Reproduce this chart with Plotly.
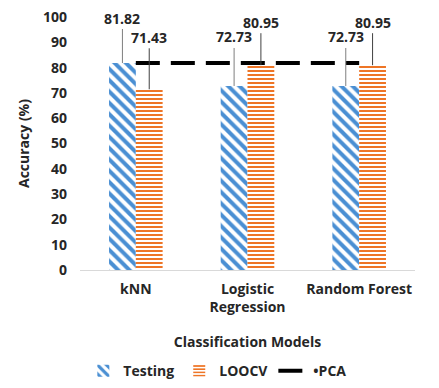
import plotly.graph_objects as go

categories = ["kNN", "Logistic<br>Regression", "Random Forest"]
testing = [81.82, 72.73, 72.73]
loocv = [71.43, 80.95, 80.95]
pca_x = ["kNN", "Random Forest"]
pca_y = [81.82, 81.82]
y_ticks = list(range(0, 101, 10))

FONT = "Open Sans"
bargap = 0.52
bw = (1 - bargap) / 2

fig = go.Figure()
fig.add_trace(go.Bar(
    x=categories, y=testing, name="Testing",
    marker=dict(color="white", line=dict(width=0),
                pattern=dict(shape="\\", fgcolor="#4A8FD3", bgcolor="white", fgopacity=1,
                             size=8, solidity=0.5)),
))
fig.add_trace(go.Bar(
    x=categories, y=loocv, name="LOOCV",
    marker=dict(color="white", line=dict(width=0),
                pattern=dict(shape="-", fgcolor="#EE7526", bgcolor="white", fgopacity=1,
                             size=4, solidity=0.5)),
))
fig.add_trace(go.Scatter(
    x=pca_x, y=pca_y, name="•PCA", mode="lines",
    line=dict(color="black", width=4, dash="24px,11px"),
))

# data labels with leader lines
lab_off_test = [-45, -49, -49]
lab_off_loo = [-52, -43, -43]
for i, v in enumerate(testing):
    fig.add_annotation(x=i - bw / 2, y=v, text=f"<b>{v:.2f}</b>", showarrow=True,
                       arrowhead=0, arrowwidth=1, arrowcolor="#7f7f7f", ax=0, ay=lab_off_test[i],
                       font=dict(family=FONT, size=14, color="#262626"))
for i, v in enumerate(loocv):
    fig.add_annotation(x=i + bw / 2, y=v, text=f"<b>{v:.2f}</b>", showarrow=True,
                       arrowhead=0, arrowwidth=1, arrowcolor="#404040", ax=0, ay=lab_off_loo[i],
                       font=dict(family=FONT, size=14, color="#262626"))

fig.update_layout(
    width=439, height=388,
    margin=dict(l=80, r=24, t=17, b=118, autoexpand=False),
    paper_bgcolor="white", plot_bgcolor="white",
    barmode="group", bargap=bargap, bargroupgap=0,
    font=dict(family=FONT, size=14, color="#262626"),
    showlegend=True,
    legend=dict(orientation="h", x=0.41, xanchor="center", y=-0.40, yanchor="middle",
                font=dict(family=FONT, size=14, weight="bold"), traceorder="normal"),
    xaxis=dict(
        type="category", showgrid=False, showline=True, linecolor="#d9d9d9", linewidth=1,
        ticks="", tickfont=dict(family=FONT, size=14, weight="bold"), ticklabelstandoff=6,
        automargin=False,
        title=dict(text="<b>Classification Models</b>", font=dict(family=FONT, size=14), standoff=22),
    ),
    yaxis=dict(
        range=[0, 100], tickvals=y_ticks, showgrid=False, showline=False, zeroline=False,
        ticks="", tickfont=dict(family=FONT, size=14, weight="bold"), ticklabelstandoff=12,
        automargin=False,
        title=dict(text="<b>Accuracy (%)</b>", font=dict(family=FONT, size=14), standoff=10),
    ),
)

fig.write_html("out.html", config={"displayModeBar": False},
               post_script="document.body.style.margin='0';")
